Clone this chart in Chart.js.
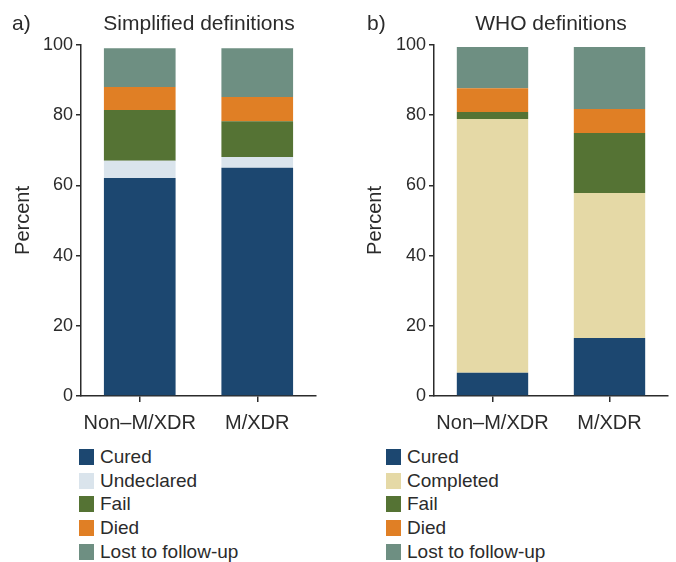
<!DOCTYPE html>
<html>
<head>
<meta charset="utf-8">
<script src="https://cdn.jsdelivr.net/npm/chart.js@4"></script>
<style>
  body { margin: 0; background: #fff; font-family: "Liberation Sans", Arial, sans-serif; color: #2b2b2b; }
  #wrap { position: relative; width: 676px; height: 562px; }
  canvas { position: absolute; top: 0; }
  .lbl, .ttl { position: absolute; font-size: 21px; line-height: 21px; white-space: nowrap; }
  .ttl { transform: translateX(-50%); }
  .legend { position: absolute; font-size: 19px; }
  .legend div { height: 23.7px; display: flex; align-items: center; }
  .legend span.box { display: inline-block; width: 15px; height: 16px; margin-right: 6px; }
</style>
</head>
<body>
<div id="wrap">
  <canvas id="chartA" width="338" height="440" style="left:0px"></canvas>
  <canvas id="chartB" width="338" height="440" style="left:338px"></canvas>
  <div class="lbl" style="left:12px; top:12px">a)</div>
  <div class="ttl" style="left:199px; top:12px">Simplified definitions</div>
  <div class="lbl" style="left:367px; top:12px">b)</div>
  <div class="ttl" style="left:551px; top:12px">WHO definitions</div>
  <div class="legend" id="legendA" style="left:79px; top:445px"></div>
  <div class="legend" id="legendB" style="left:386px; top:445px"></div>
</div>
<script>
const categories = ["Non–M/XDR", "M/XDR"];

// a) Simplified definitions
const simpleLabels = ["Cured", "Undeclared", "Fail", "Died", "Lost to follow-up"];
const simpleCured = [62.1, 65.0];
const simpleUndeclared = [4.9, 3.1];
const simpleFail = [14.5, 10.2];
const simpleDied = [6.5, 6.9];
const simpleLost = [11.1, 13.9];

// b) WHO definitions
const whoLabels = ["Cured", "Completed", "Fail", "Died", "Lost to follow-up"];
const whoCured = [6.6, 16.5];
const whoCompleted = [72.3, 41.3];
const whoFail = [2.0, 17.1];
const whoDied = [6.8, 6.9];
const whoLost = [11.7, 17.6];

const yTicks = [0, 20, 40, 60, 80, 100];

const colCured = "#1c4770";
const colUndeclared = "#dae4ec";
const colCompleted = "#e5d9a6";
const colFail = "#557334";
const colDied = "#e07f25";
const colLost = "#6e8f82";

const ink = "#2b2b2b";
const family = "'Liberation Sans', Arial, sans-serif";

function makeChart(id, labels, series, colors, padLeft, yWidth, padRight) {
  const datasets = series.map((d, i) => ({
    label: labels[i],
    data: d,
    backgroundColor: colors[i],
    borderWidth: 0,
    barPercentage: 0.61,
    categoryPercentage: 1
  }));
  return new Chart(document.getElementById(id), {
    type: "bar",
    data: { labels: categories, datasets },
    options: {
      responsive: false,
      animation: false,
      layout: { padding: { top: 45, left: padLeft, right: padRight, bottom: 0 } },
      plugins: { legend: { display: false }, tooltip: { enabled: false } },
      scales: {
        x: {
          stacked: true,
          grid: { offset: false, drawOnChartArea: false, tickLength: 6, color: ink, lineWidth: 1.5 },
          border: { color: ink, width: 1.5 },
          ticks: { color: ink, font: { family, size: 20 }, padding: 9, maxRotation: 0, minRotation: 0, autoSkip: false },
          afterFit: s => { s.height = 44; }
        },
        y: {
          stacked: true,
          min: 0,
          max: 100,
          afterBuildTicks: s => { s.ticks = yTicks.map(v => ({ value: v })); },
          grid: { drawOnChartArea: false, tickLength: 5, color: ink, lineWidth: 1.5 },
          border: { color: ink, width: 1.5 },
          ticks: { color: ink, font: { family, size: 18 }, padding: 3 },
          title: { display: true, text: "Percent", color: ink, font: { family, size: 20 }, padding: 11 },
          afterFit: s => { s.width = yWidth; }
        }
      }
    }
  });
}

makeChart("chartA", simpleLabels,
  [simpleCured, simpleUndeclared, simpleFail, simpleDied, simpleLost],
  [colCured, colUndeclared, colFail, colDied, colLost], 0, 81, 22);

makeChart("chartB", whoLabels,
  [whoCured, whoCompleted, whoFail, whoDied, whoLost],
  [colCured, colCompleted, colFail, colDied, colLost], 14, 82, 8);

function makeLegend(id, labels, colors) {
  const el = document.getElementById(id);
  labels.forEach((t, i) => {
    const row = document.createElement("div");
    row.innerHTML = '<span class="box" style="background:' + colors[i] + '"></span>' + t;
    el.appendChild(row);
  });
}
makeLegend("legendA", simpleLabels, [colCured, colUndeclared, colFail, colDied, colLost]);
makeLegend("legendB", whoLabels, [colCured, colCompleted, colFail, colDied, colLost]);
</script>
</body>
</html>
